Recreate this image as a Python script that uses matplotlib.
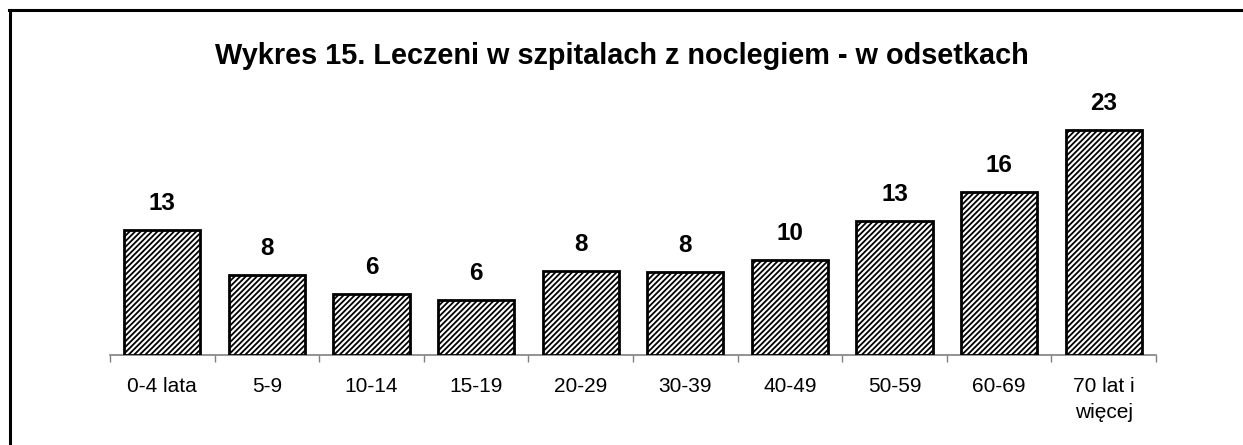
import matplotlib
matplotlib.use("Agg")
import matplotlib.pyplot as plt
from matplotlib.lines import Line2D

# grupy wieku i odsetki leczonych w szpitalach
grupy = ["0-4 lata", "5-9", "10-14", "15-19", "20-29", "30-39",
         "40-49", "50-59", "60-69", "70 lat i\nwięcej"]
odsetki = [12.5, 8.0, 6.1, 5.5, 8.4, 8.3, 9.5, 13.4, 16.3, 22.5]
etykiety = ["13", "8", "6", "6", "8", "8", "10", "13", "16", "23"]

plt.rcParams["font.family"] = ["Liberation Sans", "DejaVu Sans"]
plt.rcParams["hatch.linewidth"] = 1.3

W, H = 1243, 445
fig = plt.figure(figsize=(W / 100, H / 100), dpi=100)

# axes placed in pixel terms: x 110..1156, baseline at y=355, 10 px per unit
ax = fig.add_axes([110 / W, (H - 355) / H, 1046 / W, 250 / H])

pos = list(range(len(grupy)))
bars = ax.bar(pos, odsetki, width=0.73, color="white", edgecolor="black",
              linewidth=2, hatch="//////", zorder=3)
ax.bar_label(bars, labels=etykiety, padding=11, fontsize=17.5, fontweight="bold")

ax.set_xlim(-0.5, len(grupy) - 0.5)
ax.set_ylim(0, 25)

for s in ["top", "right", "left"]:
    ax.spines[s].set_visible(False)
ax.spines["bottom"].set_color("#808080")
ax.spines["bottom"].set_linewidth(1.2)
ax.set_yticks([])

# ticks at category boundaries, labels at centres
ax.set_xticks([p - 0.5 for p in pos] + [len(grupy) - 0.5])
ax.set_xticklabels([])
ax.tick_params(axis="x", which="major", length=5, color="#808080", width=1)
ax.set_xticks(pos, minor=True)
ax.set_xticklabels(grupy, minor=True, fontsize=15, linespacing=1.45)
ax.tick_params(axis="x", which="minor", length=0, pad=16)

fig.text(0.5, (H - 64.5) / H, "Wykres 15. Leczeni w szpitalach z noclegiem - w odsetkach",
         ha="center", va="baseline", fontsize=20.8, fontweight="bold")

# frame of the chart area (only left and top visible)
fig.add_artist(Line2D([10.5 / W, 10.5 / W], [0, (H - 9.5) / H], color="black", linewidth=2.2))
fig.add_artist(Line2D([9 / W, 1], [(H - 9.5) / H, (H - 9.5) / H], color="black", linewidth=2.2))

fig.savefig("out.png", dpi=100)
